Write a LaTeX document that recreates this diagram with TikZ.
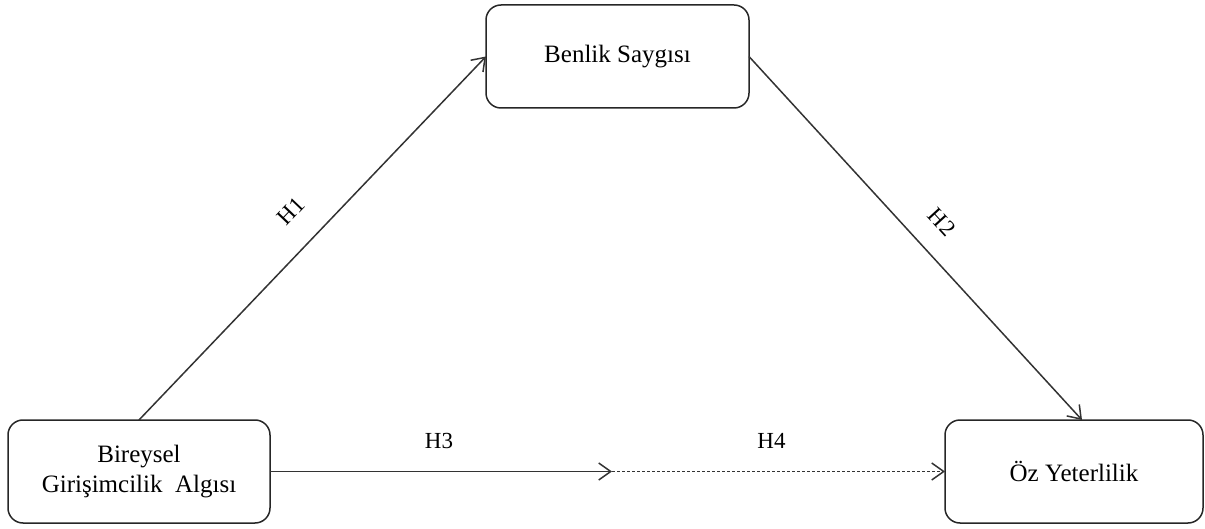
\documentclass[tikz,border=0pt]{standalone}
\usepackage{fontspec}
\setmainfont{Liberation Serif}
\usetikzlibrary{arrows.meta}
\begin{document}
\begin{tikzpicture}[x=1pt,y=-1pt,
  box/.style={draw=black!85, line width=1.5pt, rounded corners=15pt, inner sep=0pt, outer sep=0pt,
    align=center, font=\fontsize{25}{30}\selectfont},
  conn/.style={draw=black!80, line width=1.5pt, -{Straight Barb[length=12pt,width=17pt,line width=1.5pt]}},
  hlabel/.style={inner sep=0pt, font=\fontsize{23}{27}\selectfont}
]
\useasboundingbox (0,0) rectangle (1205,529);
\node[box, minimum width=263pt, minimum height=103pt] (ben) at (617.5,56.5) {Benlik Saygısı};
\node[box, minimum width=262pt, minimum height=103pt] (bir) at (139,471.5) {Bireysel\\Girişimcilik\ \ Algısı};
\node[box, minimum width=258pt, minimum height=103pt] (oz) at (1074,471.5) {Öz Yeterlilik};
\coordinate (mid) at (612,471.5);
\draw[conn] (bir.north) -- (ben.west);
\draw[conn] (ben.east) -- ([xshift=8pt]oz.north);
\draw[conn] (bir.east) -- (mid);
\draw[conn, dash pattern=on 3pt off 2pt] (mid) -- (oz.west);
\node[hlabel, rotate=46.4] (h1) at (291,211) {H1};
\node[hlabel, rotate=-47.6] (h2) at (942,222) {H2};
\node[hlabel] (h3) at (439,441) {H3};
\node[hlabel] (h4) at (771.5,441) {H4};
\end{tikzpicture}
\end{document}
